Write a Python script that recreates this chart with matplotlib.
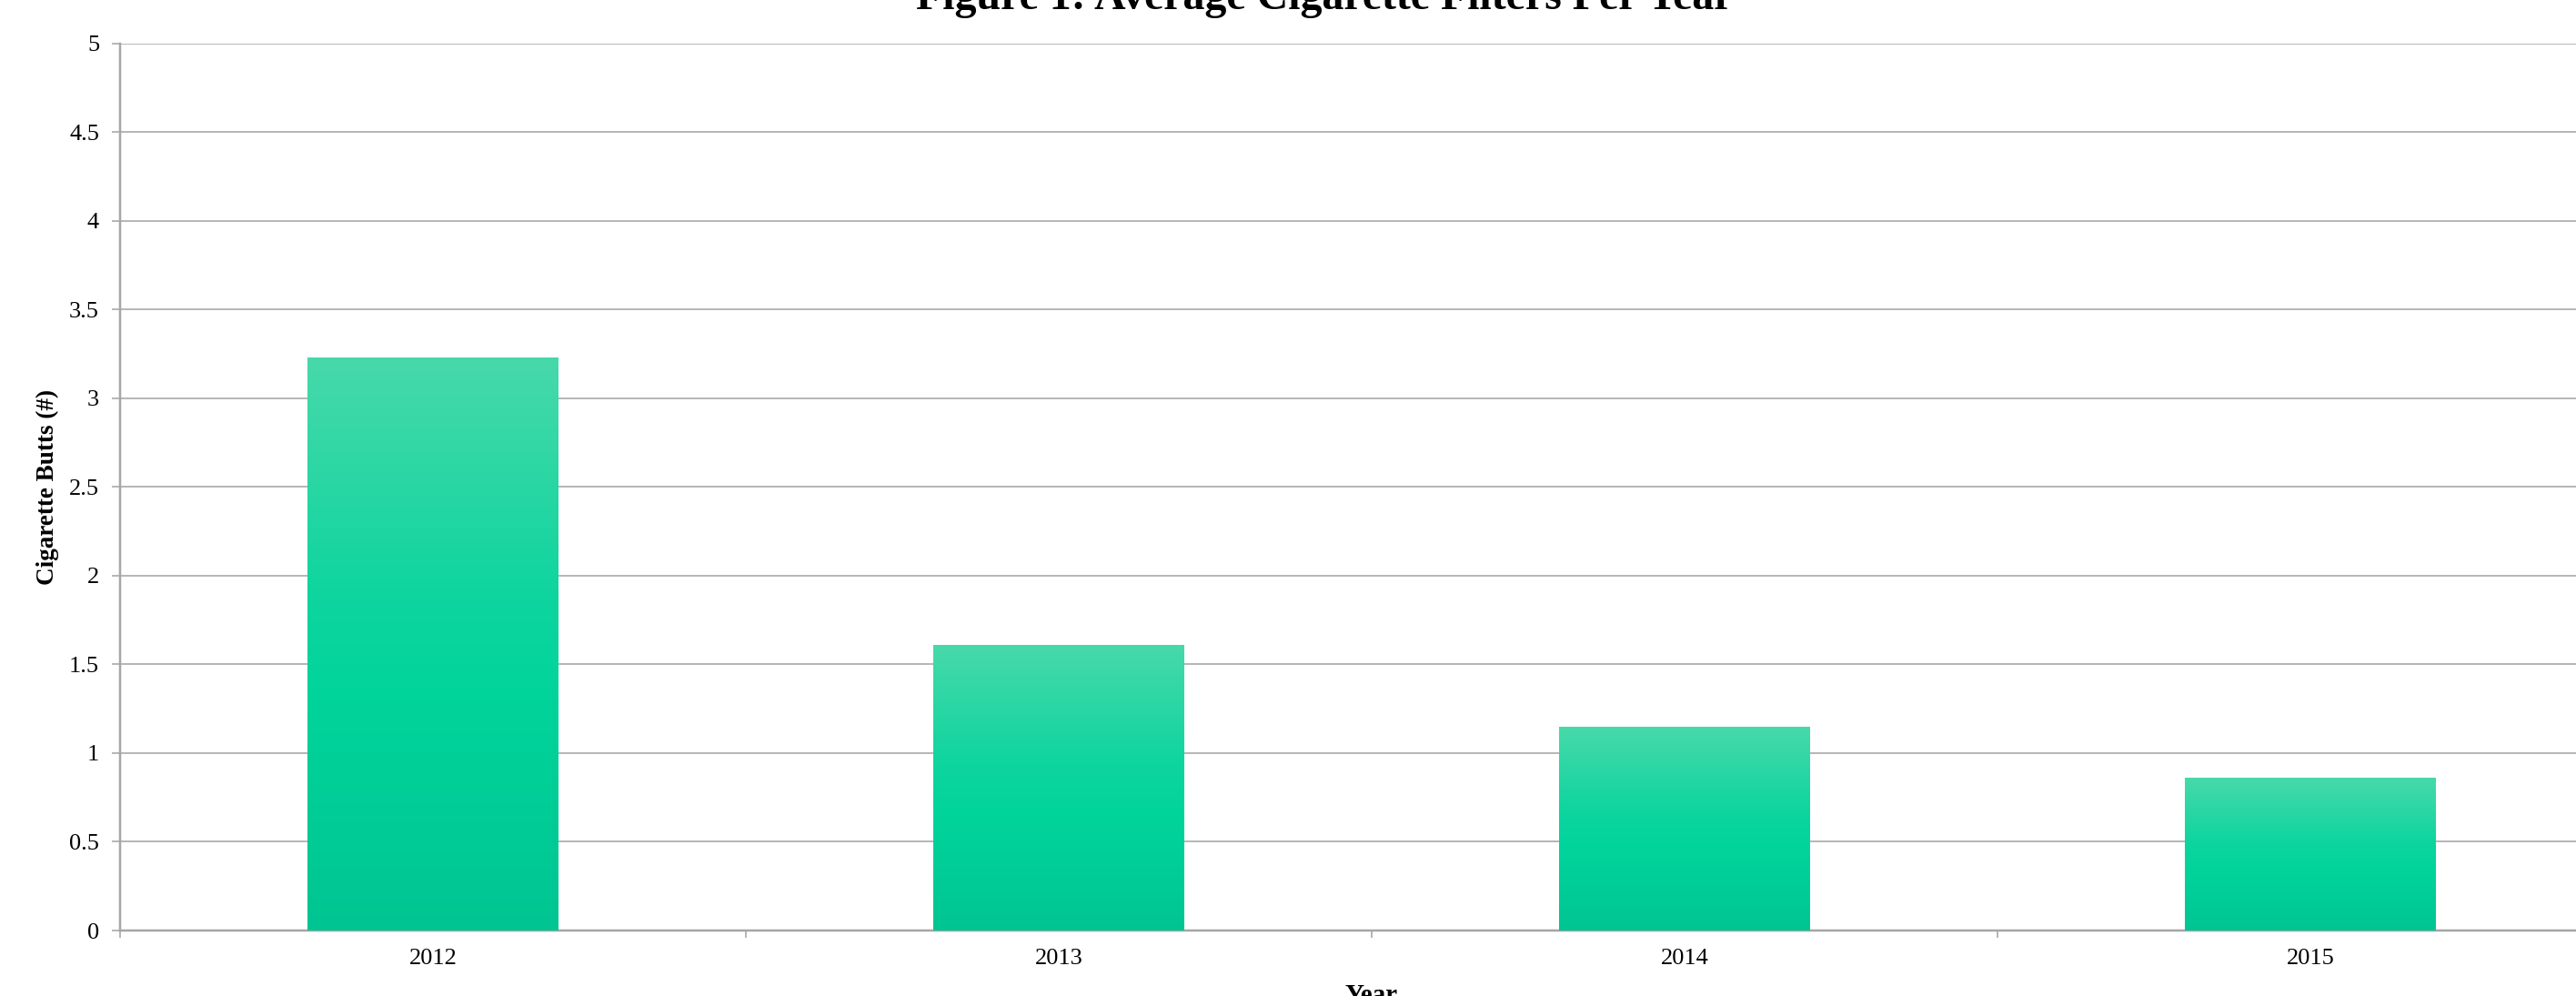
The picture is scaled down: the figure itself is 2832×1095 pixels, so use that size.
import matplotlib
matplotlib.use("Agg")
import matplotlib.pyplot as plt
import numpy as np
from matplotlib.colors import LinearSegmentedColormap

years = ["2012", "2013", "2014", "2015"]
avg_filters = [3.23, 1.61, 1.15, 0.86]
y_ticks = [0, 0.5, 1, 1.5, 2, 2.5, 3, 3.5, 4, 4.5, 5]
y_tick_labels = ["0", "0.5", "1", "1.5", "2", "2.5", "3", "3.5", "4", "4.5", "5"]

title = "Figure 1: Average Cigarette Filters Per Year"
x_label = "Year"
y_label = "Cigarette Butts (#)"

plt.rcParams['font.family'] = ['Liberation Serif', 'DejaVu Serif']

W, H = 2832, 1095
PX = 72 / 100  # points per pixel at dpi 100
fig = plt.figure(figsize=(W / 100, H / 100), dpi=100)
fig.patch.set_facecolor("white")

ax_left = 132 / W
ax_right = 2884 / W
ax_bottom = (H - 1023) / H
ax_top = (H - 47.6) / H
ax = fig.add_axes([ax_left, ax_bottom, ax_right - ax_left, ax_top - ax_bottom])

x = np.arange(len(years))
bars = ax.bar(x, avg_filters, width=0.4, color="none", edgecolor="none", zorder=3)

# vertical gradient per bar (top light -> bright mid -> slightly darker bottom)
cmap = LinearSegmentedColormap.from_list(
    "grad",
    [(0.0, "#00C592"), (0.4, "#00D49B"), (0.6, "#10D59F"), (1.0, "#48D9AA")],
)
grad = np.linspace(0, 1, 256).reshape(-1, 1)
for b in bars:
    x0, w, h = b.get_x(), b.get_width(), b.get_height()
    im = ax.imshow(grad, cmap=cmap, origin="lower", aspect="auto",
                   extent=[x0, x0 + w, 0, h], zorder=3, interpolation="bilinear")
    im.set_clip_path(b)

ax.set_xlim(-0.5, len(years) - 0.5)
ax.set_ylim(0, 5)

ax.set_yticks(y_ticks)
ax.set_yticklabels(y_tick_labels)
ax.yaxis.grid(True, color="#A0A0A0", linewidth=1.5 * PX, zorder=0)
ax.set_axisbelow(True)

# x: tick marks between categories, labels at centers
ax.set_xticks(np.arange(len(years) + 1) - 0.5)
ax.set_xticklabels([""] * (len(years) + 1))
ax.set_xticks(x, minor=True)
ax.set_xticklabels(years, minor=True)
ax.tick_params(axis="x", which="major", length=8 * PX, width=1.5 * PX, color="#A0A0A0",
               direction="out")
ax.tick_params(axis="x", which="minor", length=0, pad=20 * PX, labelsize=19)
ax.tick_params(axis="y", which="major", length=9 * PX, width=1.5 * PX, color="#A0A0A0",
               direction="out", pad=14 * PX, labelsize=19)

for s in ["top", "right"]:
    ax.spines[s].set_visible(False)
ax.spines["left"].set_color("#A6A6A6")
ax.spines["left"].set_linewidth(2.5 * PX)
ax.spines["bottom"].set_color("#A6A6A6")
ax.spines["bottom"].set_linewidth(2.5 * PX)

fig.text(1456 / W, 1 - 10 / H, title, ha="center", va="baseline",
         fontsize=34.5, fontweight="bold")
fig.text(52 / W, 1 - 535 / H, y_label, ha="center", va="center", rotation=90,
         fontsize=19.5, fontweight="bold")
fig.text(1508 / W, 1 - 1081 / H, x_label, ha="center", va="top",
         fontsize=21, fontweight="bold")

fig.savefig("out.png", dpi=100, facecolor="white")
